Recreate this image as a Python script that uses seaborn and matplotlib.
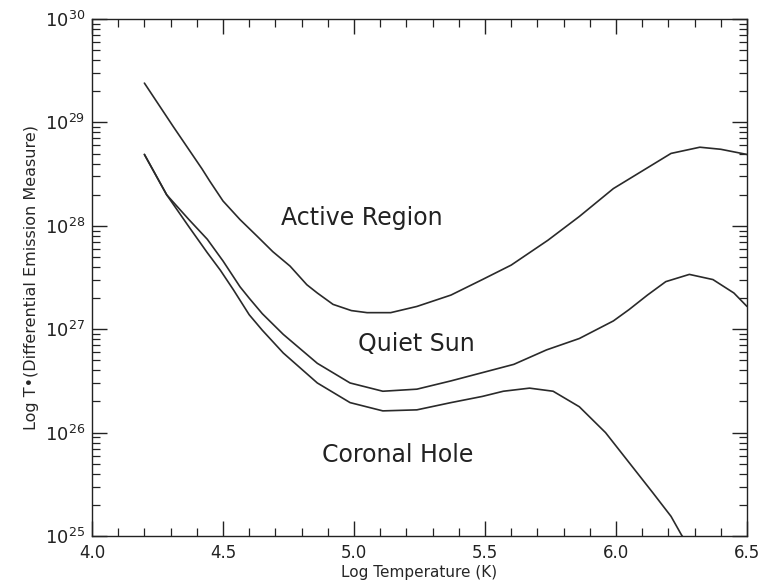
import numpy as np
import pandas as pd
import matplotlib
matplotlib.use("Agg")
import matplotlib.pyplot as plt
from matplotlib.ticker import MultipleLocator, LogLocator, NullFormatter, FixedLocator
import seaborn as sns

# ---- data (log10 values) ----
ar_logT = [4.20, 4.31, 4.42, 4.45, 4.50, 4.565, 4.63, 4.69, 4.756, 4.82, 4.86, 4.92, 4.99, 5.05,
           5.14, 5.24, 5.37, 5.49, 5.60, 5.74, 5.86, 5.99, 6.10, 6.21, 6.32, 6.40, 6.50]
ar_logEM = [29.38, 28.96, 28.55, 28.43, 28.24, 28.06, 27.90, 27.75, 27.61, 27.43, 27.35, 27.24, 27.18, 27.16,
            27.16, 27.22, 27.33, 27.48, 27.62, 27.86, 28.09, 28.36, 28.53, 28.70, 28.76, 28.74, 28.69]

qs_logT = [4.20, 4.285, 4.37, 4.44, 4.50, 4.565, 4.60, 4.65, 4.73, 4.86, 4.985, 5.11, 5.24, 5.37,
           5.49, 5.61, 5.735, 5.86, 5.99, 6.05, 6.12, 6.19, 6.28, 6.37, 6.45, 6.50]
qs_logEM = [28.69, 28.30, 28.06, 27.87, 27.66, 27.41, 27.30, 27.15, 26.95, 26.67, 26.48, 26.40, 26.42, 26.50,
            26.58, 26.66, 26.80, 26.91, 27.08, 27.19, 27.33, 27.46, 27.53, 27.48, 27.35, 27.22]

ch_logT = [4.20, 4.285, 4.37, 4.44, 4.49, 4.54, 4.60, 4.65, 4.73, 4.86, 4.985, 5.11, 5.24, 5.37,
           5.49, 5.57, 5.67, 5.76, 5.86, 5.96, 6.05, 6.14, 6.21, 6.25, 6.28]
ch_logEM = [28.69, 28.30, 27.99, 27.74, 27.57, 27.38, 27.14, 26.99, 26.77, 26.48, 26.29, 26.21, 26.22, 26.29,
            26.35, 26.40, 26.43, 26.40, 26.25, 26.00, 25.71, 25.42, 25.19, 25.01, 24.90]

region_names = ["Active Region", "Quiet Sun", "Coronal Hole"]
x_ticks = [4.0, 4.5, 5.0, 5.5, 6.0, 6.5]

# ---- build tidy frame ----
frames = []
for name, xs, ys in zip(region_names, [ar_logT, qs_logT, ch_logT], [ar_logEM, qs_logEM, ch_logEM]):
    frames.append(pd.DataFrame({"logT": xs, "EM": np.power(10.0, ys), "region": name}))
df = pd.concat(frames, ignore_index=True)

sns.set_style("ticks")
plt.rcParams["font.family"] = ["DejaVu Sans"]

fig = plt.figure(figsize=(7.61, 5.84), dpi=100)
ax = fig.add_axes([92 / 761, 1 - 536 / 584, (747 - 92) / 761, (536 - 19) / 584])

sns.lineplot(data=df, x="logT", y="EM", units="region", estimator=None, sort=False,
             color="#2a2a2a", linewidth=1.2, ax=ax, legend=False)

ax.set_yscale("log")
ax.set_xlim(4.0, 6.5)
ax.set_ylim(1e25, 1e30)

ax.xaxis.set_major_locator(FixedLocator(x_ticks))
ax.set_xticklabels([f"{t:.1f}" for t in x_ticks])
ax.xaxis.set_minor_locator(MultipleLocator(0.1))
ax.yaxis.set_major_locator(LogLocator(base=10, numticks=10))
ax.yaxis.set_minor_locator(LogLocator(base=10, subs=np.arange(2, 10), numticks=20))
ax.yaxis.set_minor_formatter(NullFormatter())

ax.tick_params(which="both", direction="in", top=True, right=True, colors="#222222")
ax.tick_params(axis="x", labelsize=12, pad=6)
ax.tick_params(axis="y", labelsize=13, pad=5)
ax.tick_params(which="major", length=11, width=1.0)
ax.tick_params(which="minor", length=6, width=0.9)

for sp in ax.spines.values():
    sp.set_visible(True)
    sp.set_linewidth(1.0)
    sp.set_color("#222222")

ax.set_xlabel("Log Temperature (K)", fontsize=11)
ax.xaxis.set_label_coords(0.5, -(573 - 536) / (536 - 19), transform=ax.transAxes)
ax.xaxis.label.set_va("center")
ax.set_ylabel("Log T\u2022(Differential Emission Measure)", fontsize=11.5, labelpad=4)

ax.text(5.03, 10 ** 28.08, "Active Region", fontsize=17, ha="center", va="center", color="#222222")
ax.text(5.237, 10 ** 26.86, "Quiet Sun", fontsize=17, ha="center", va="center", color="#222222")
ax.text(5.168, 10 ** 25.78, "Coronal Hole", fontsize=17, ha="center", va="center", color="#222222")

fig.savefig("out.png", dpi=100)
